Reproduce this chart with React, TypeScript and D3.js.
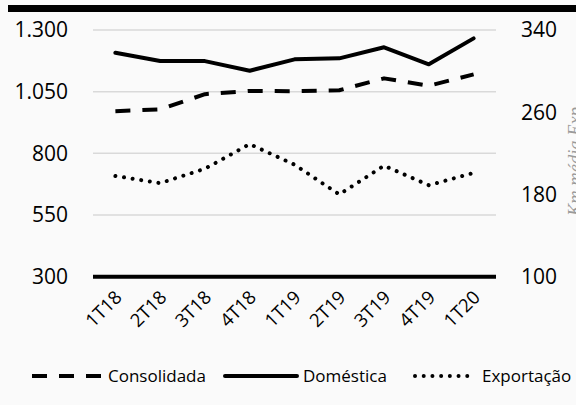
import React from 'react';
import * as d3 from 'd3';

const categories = ['1T18', '2T18', '3T18', '4T18', '1T19', '2T19', '3T19', '4T19', '1T20'];
const consolidada = [971, 978, 1040, 1053, 1052, 1056, 1104, 1074, 1120];
const domestica = [1208, 1174, 1174, 1135, 1181, 1185, 1230, 1161, 1266];
const exportacao = [198, 191, 205, 229, 209, 180, 208, 189, 201];
const leftTicks = [300, 550, 800, 1050, 1300];
const rightTicks = [100, 180, 260, 340];

const W = 576;
const H = 405;
const plot = { left: 93, right: 496, top: 30, bottom: 276.7 };

const ptBR = d3.formatLocale({ decimal: ',', thousands: '.', grouping: [3], currency: ['R$', ''] });
const fmt = ptBR.format(',d');

const font = '"Open Sans", "Noto Sans", sans-serif';

const App: React.FC = () => {
    const x = d3.scaleBand<string>().domain(categories).range([plot.left, plot.right]).padding(0);
    const cx = (c: string) => (x(c) as number) + x.bandwidth() / 2;
    const yL = d3.scaleLinear().domain([300, 1300]).range([plot.bottom, plot.top]);
    const yR = d3.scaleLinear().domain([100, 340]).range([plot.bottom, plot.top]);

    const series = [
        { name: 'Consolidada', values: consolidada, y: yL, dash: '15 12', cap: 'butt' },
        { name: 'Doméstica', values: domestica, y: yL, dash: 'none', cap: 'round' },
        { name: 'Exportação', values: exportacao, y: yR, dash: '0.01 8.7', cap: 'round' },
    ];

    // legenda
    const legend = [
        { x1: 32, x2: 102, tx: 108 },
        { x1: 225, x2: 297, tx: 303 },
        { x1: 415, x2: 468, tx: 482 },
    ];
    const legendY = 376;

    return (
        <svg
            width={W}
            height={H}
            style={{ position: 'absolute', left: 0, top: 0, display: 'block' }}
        >
            <rect x={0} y={0} width={W} height={H} fill="#fafafa" />
            <rect x={8} y={5} width={W - 8} height={7} fill="#000" />

            {leftTicks.slice(1).map((t) => (
                <line
                    key={t}
                    x1={plot.left}
                    x2={plot.right}
                    y1={yL(t)}
                    y2={yL(t)}
                    stroke="#d9d9d9"
                    strokeWidth={1.5}
                />
            ))}
            <line x1={plot.left} x2={plot.right} y1={plot.bottom} y2={plot.bottom} stroke="#000" strokeWidth={4} />

            {leftTicks.map((t) => (
                <text
                    key={t}
                    x={68}
                    y={yL(t)}
                    dy="0.35em"
                    textAnchor="end"
                    fontFamily={font}
                    fontSize={21}
                    fill="#000"
                >
                    {fmt(t)}
                </text>
            ))}
            {rightTicks.map((t) => (
                <text
                    key={t}
                    x={521}
                    y={yR(t)}
                    dy="0.35em"
                    textAnchor="start"
                    fontFamily={font}
                    fontSize={21}
                    fill="#000"
                >
                    {fmt(t)}
                </text>
            ))}
            <text
                transform="translate(581,216) rotate(-90)"
                fontFamily='"Liberation Serif", "DejaVu Serif", serif'
                fontStyle="italic"
                fontSize={18.5}
                fill="#9a9a9a"
            >
                Km média Exp
            </text>

            {categories.map((c) => (
                <text
                    key={c}
                    transform={`translate(${cx(c) + 3},294) rotate(-45)`}
                    dy="0.35em"
                    textAnchor="end"
                    fontFamily={font}
                    fontSize={18.5}
                    fill="#000"
                >
                    {c}
                </text>
            ))}

            {series.map((s) => {
                const line = d3
                    .line<number>()
                    .x((_, i) => cx(categories[i]))
                    .y((d) => s.y(d));
                return (
                    <path
                        key={s.name}
                        d={line(s.values) || ''}
                        fill="none"
                        stroke="#000"
                        strokeWidth={4}
                        strokeDasharray={s.dash}
                        strokeLinecap={s.cap as any}
                        strokeLinejoin="round"
                    />
                );
            })}

            {series.map((s, i) => (
                <g key={s.name}>
                    <line
                        x1={legend[i].x1}
                        x2={legend[i].x2}
                        y1={legendY}
                        y2={legendY}
                        stroke="#000"
                        strokeWidth={4}
                        strokeDasharray={s.dash}
                        strokeLinecap={s.cap as any}
                    />
                    <text
                        x={legend[i].tx}
                        y={legendY}
                        dy="0.35em"
                        fontFamily={font}
                        fontSize={17}
                        fill="#000"
                    >
                        {s.name}
                    </text>
                </g>
            ))}
        </svg>
    );
};

export default App;
